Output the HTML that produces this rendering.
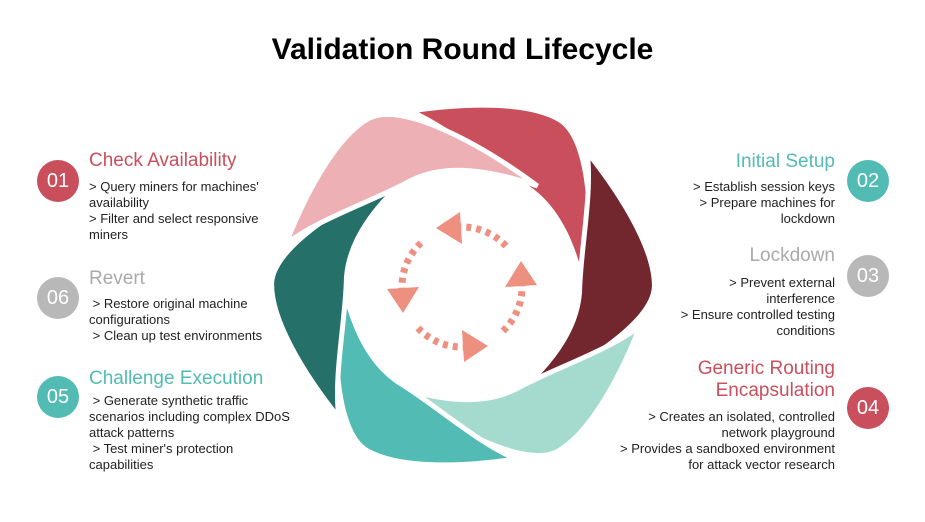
<!DOCTYPE html>
<html><head><meta charset="utf-8"><style>
body{margin:0;background:#fff;width:925px;height:522px;position:relative;overflow:hidden;font-family:"Liberation Sans",sans-serif}
.t{position:absolute;font-size:13px;line-height:16px;color:#222;white-space:nowrap}
.h{position:absolute;font-size:19px;line-height:22px;white-space:nowrap}
.r{text-align:right}
.num{position:absolute;width:42px;height:42px;border-radius:50%;color:#fff;font-size:20px;line-height:42px;text-align:center}
</style></head><body>
<div style="position:absolute;left:0;width:925px;top:33px;text-align:center;font-size:30px;font-weight:bold;color:#000">Validation Round Lifecycle</div>
<svg width="925" height="522" style="position:absolute;left:0;top:0">
<defs><path id="petal" d="M410,111 C470,102 530,102 560,120 C592,140 594,230 586,300 C576,250 560,210 528,188 C490,165 450,128 410,111 Z" stroke="#fff" stroke-width="5" stroke-linejoin="miter"/>
<g id="arr"><path d="M506,246 A60,60 0 0 0 460,227" fill="none" stroke="#ee9080" stroke-width="7" stroke-dasharray="5,5"/><polygon points="436,228 460,212 462,244" fill="#ee9080"/></g></defs>
<use href="#petal" fill="#c94f5c"/>
<use href="#petal" fill="#72262d" transform="rotate(60 463 285)"/>
<use href="#petal" fill="#a5dbcf" transform="rotate(120 463 285)"/>
<use href="#petal" fill="#52bbb3" transform="rotate(180 463 285)"/>
<use href="#petal" fill="#26706a" transform="rotate(240 463 285)"/>
<use href="#petal" fill="#edb0b4" transform="rotate(300 463 285)"/>
<use href="#arr"/>
<use href="#arr" transform="rotate(-90 462 287)"/>
<use href="#arr" transform="rotate(180 462 287)"/>
<use href="#arr" transform="rotate(90 462 287)"/>
</svg>
<div class="num" style="left:37px;top:160px;background:#c94f5c">01</div>
<div class="num" style="left:37px;top:277px;background:#b8b8b8">06</div>
<div class="num" style="left:37px;top:376px;background:#52bbb3">05</div>
<div class="num" style="left:847px;top:160px;background:#52bbb3">02</div>
<div class="num" style="left:847px;top:255px;background:#b8b8b8">03</div>
<div class="num" style="left:847px;top:387px;background:#c94f5c">04</div>

<div class="h" style="left:89px;top:150px;color:#c94f5c">Check Availability</div>
<div class="t" style="left:89px;top:179px">&gt; Query miners for machines'<br>availability<br>&gt; Filter and select responsive<br>miners</div>
<div class="h" style="left:89px;top:268px;color:#aaa">Revert</div>
<div class="t" style="left:89px;top:296px">&nbsp;&gt; Restore original machine<br>configurations<br>&nbsp;&gt; Clean up test environments</div>
<div class="h" style="left:89px;top:368px;color:#52bbb3">Challenge Execution</div>
<div class="t" style="left:89px;top:393px">&nbsp;&gt; Generate synthetic traffic<br>scenarios including complex DDoS<br>attack patterns<br>&nbsp;&gt; Test miner's protection<br>capabilities</div>

<div class="h r" style="right:90px;top:151px;color:#52bbb3">Initial Setup</div>
<div class="t r" style="right:90px;top:179px">&gt; Establish session keys<br>&gt; Prepare machines for<br>lockdown</div>
<div class="h r" style="right:90px;top:245px;color:#aaa">Lockdown</div>
<div class="t r" style="right:90px;top:275px">&gt; Prevent external<br>interference<br>&gt; Ensure controlled testing<br>conditions</div>
<div class="h r" style="right:90px;top:358px;color:#c94f5c;line-height:22px">Generic Routing<br>Encapsulation</div>
<div class="t r" style="right:90px;top:409px">&gt; Creates an isolated, controlled<br>network playground<br>&gt; Provides a sandboxed environment<br>for attack vector research</div>
</body></html>
